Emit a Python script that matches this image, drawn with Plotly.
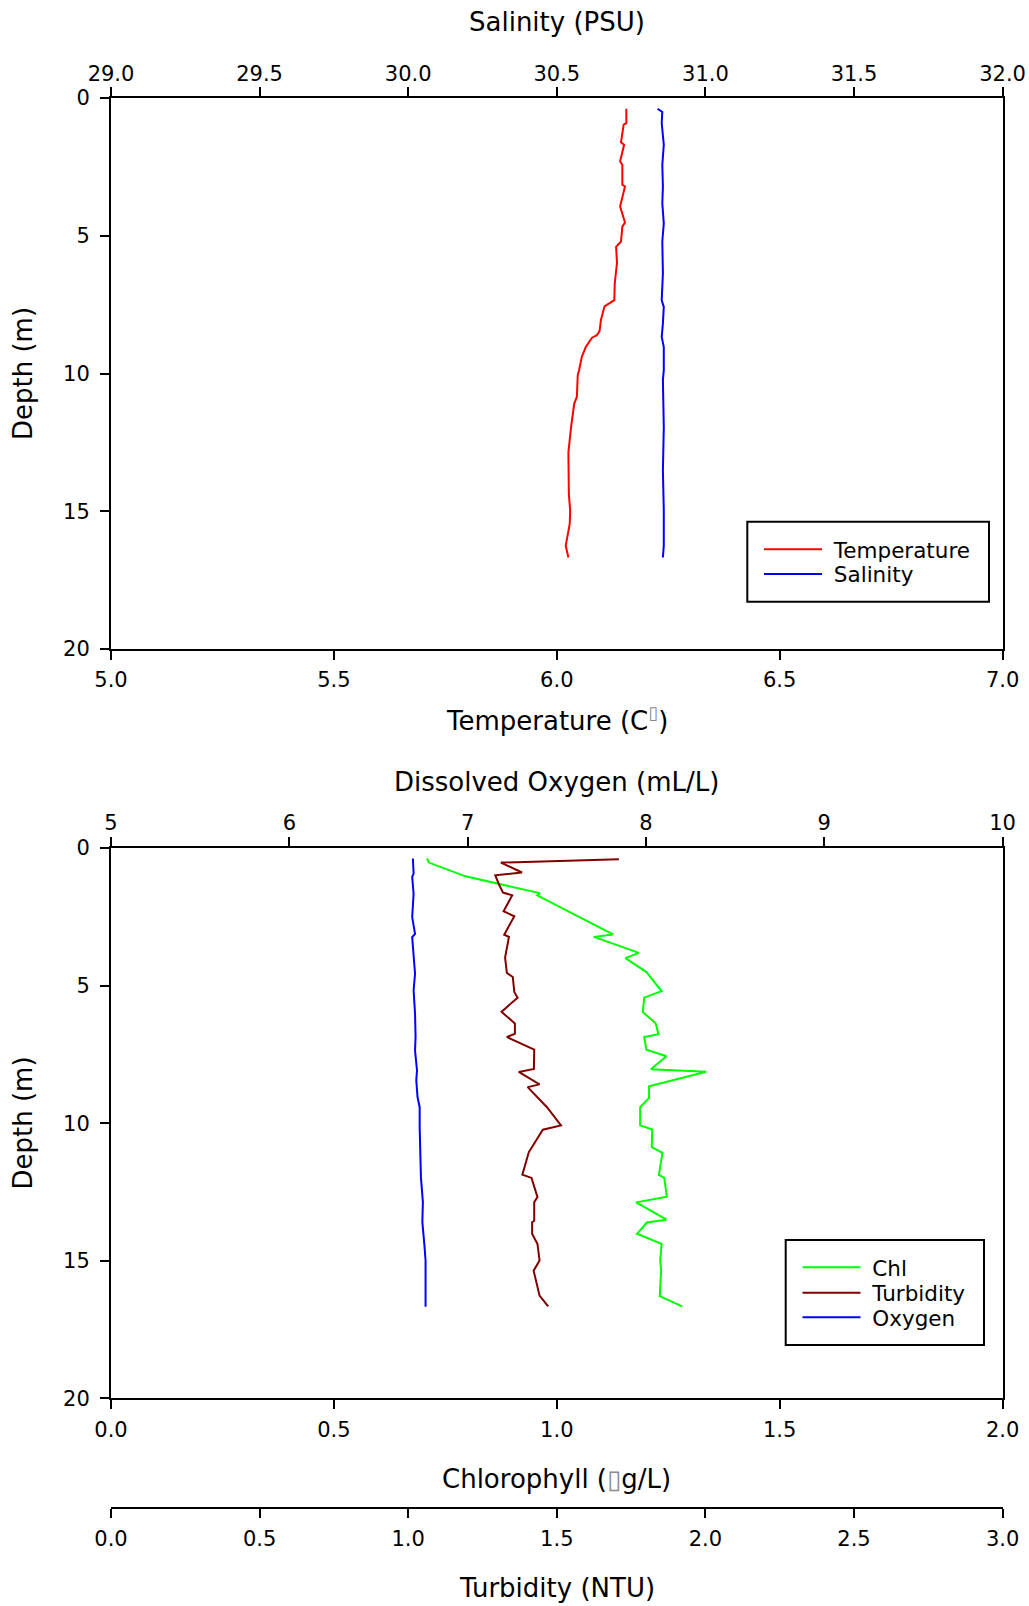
import plotly.graph_objects as go

# ---- CTD profile data (depth in m) ----
temp_depth = [0.39, 0.91, 0.97, 1.61, 1.70, 2.30, 2.43, 3.15, 3.21, 3.94, 4.52, 4.67, 5.21, 5.40,
              5.98, 6.73, 7.34, 7.56, 8.06, 8.45, 8.61, 8.70, 9.04, 9.40, 9.88, 10.06, 10.85, 11.10,
              11.95, 12.86, 14.37, 14.98, 15.46, 16.25, 16.68]
temperature = [6.156, 6.156, 6.150, 6.144, 6.151, 6.142, 6.147, 6.147, 6.153, 6.142, 6.153, 6.147,
               6.144, 6.133, 6.135, 6.130, 6.129, 6.107, 6.099, 6.096, 6.090, 6.079, 6.065, 6.056,
               6.050, 6.047, 6.045, 6.039, 6.032, 6.026, 6.027, 6.030, 6.029, 6.020, 6.026]

sal_depth = [0.39, 0.51, 0.91, 1.70, 2.43, 3.21, 3.82, 4.55, 5.21, 6.37, 7.34, 7.58, 8.19, 8.67,
             9.04, 9.88, 10.24, 11.95, 13.52, 14.98, 16.25, 16.68]
salinity = [30.839, 30.855, 30.853, 30.860, 30.855, 30.857, 30.855, 30.860, 30.855, 30.857, 30.853,
            30.860, 30.857, 30.853, 30.860, 30.860, 30.857, 30.860, 30.857, 30.860, 30.860, 30.857]

chl_depth = [0.38, 0.53, 1.03, 1.60, 1.64, 1.72, 3.14, 3.23, 3.81, 4.00, 4.51, 5.20, 5.44, 5.96,
             6.38, 6.77, 6.87, 7.33, 7.57, 8.04, 8.13, 8.66, 9.08, 9.42, 10.08, 10.23, 10.87, 11.08,
             11.88, 11.99, 12.67, 12.88, 13.51, 13.61, 14.02, 14.39, 14.99, 15.36, 16.29, 16.66]
chlorophyll = [0.709, 0.713, 0.795, 0.957, 0.962, 0.956, 1.126, 1.083, 1.184, 1.154, 1.201, 1.235,
               1.196, 1.193, 1.222, 1.228, 1.196, 1.201, 1.246, 1.211, 1.335, 1.207, 1.207, 1.187,
               1.187, 1.214, 1.213, 1.237, 1.229, 1.241, 1.247, 1.178, 1.246, 1.202, 1.180, 1.235,
               1.232, 1.234, 1.231, 1.281]

turb_depth = [0.41, 0.53, 0.89, 0.99, 1.29, 1.62, 1.72, 2.30, 2.48, 3.15, 3.23, 3.60, 3.98, 4.54,
              4.69, 5.23, 5.44, 5.95, 6.38, 6.75, 6.87, 7.33, 8.03, 8.14, 8.59, 8.69, 9.42, 10.08,
              10.24, 11.05, 11.87, 11.99, 12.69, 12.87, 13.55, 13.60, 14.02, 14.39, 14.99, 15.36,
              16.27, 16.66]
turbidity = [1.709, 1.312, 1.383, 1.293, 1.304, 1.319, 1.350, 1.321, 1.357, 1.323, 1.339, 1.332,
             1.326, 1.332, 1.352, 1.357, 1.368, 1.314, 1.359, 1.359, 1.332, 1.424, 1.423, 1.372,
             1.442, 1.402, 1.467, 1.514, 1.453, 1.406, 1.384, 1.415, 1.435, 1.424, 1.424, 1.417,
             1.417, 1.435, 1.442, 1.422, 1.442, 1.471]

ox_depth = [0.38, 0.93, 1.05, 1.66, 2.51, 3.12, 3.24, 3.84, 4.57, 5.18, 6.02, 6.87, 7.36, 8.08,
            8.44, 9.05, 9.42, 10.15, 10.99, 11.96, 12.87, 13.60, 14.39, 14.99, 16.67]
oxygen = [6.693, 6.697, 6.689, 6.697, 6.689, 6.705, 6.689, 6.697, 6.705, 6.697, 6.705, 6.708,
          6.705, 6.716, 6.712, 6.719, 6.731, 6.731, 6.734, 6.738, 6.749, 6.746, 6.757, 6.764, 6.764]

# ---- axis ticks ----
depth_ticks = [0, 5, 10, 15, 20]
temp_ticks = [5.0, 5.5, 6.0, 6.5, 7.0]
sal_ticks = [29.0, 29.5, 30.0, 30.5, 31.0, 31.5, 32.0]
chl_ticks = [0.0, 0.5, 1.0, 1.5, 2.0]
turb_ticks = [0.0, 0.5, 1.0, 1.5, 2.0, 2.5, 3.0]
do_ticks = [5, 6, 7, 8, 9, 10]

W, H = 1029, 1606
FONT = "DejaVu Sans"
X_DOM = [111 / W, 1002.6 / W]
TOP_DOM = [1 - 649 / H, 1 - 98 / H]
BOT_DOM = [1 - 1398.3 / H, 1 - 848 / H]
TURB_POS = 1 - 1508.3 / H
X_MID = 0.5 * (X_DOM[0] + X_DOM[1])

# (name, values, depths, colour, x-axis, y-axis, legend id, legend row centre in px)
series = [
    ("Temperature", temperature, temp_depth, "#FF0000", "x", "y", "legend", 549.3),
    ("Salinity", salinity, sal_depth, "#0000FF", "x2", "y", "legend2", 574.0),
    ("Chl", chlorophyll, chl_depth, "#00FF00", "x3", "y2", "legend3", 1267.3),
    ("Turbidity", turbidity, turb_depth, "#800000", "x4", "y2", "legend4", 1292.7),
    ("Oxygen", oxygen, ox_depth, "#0000FF", "x5", "y2", "legend5", 1317.3),
]

fig = go.Figure()
legend_layout = {}
for name, vals, dep, col, xa, ya, lg, row_y in series:
    fig.add_trace(go.Scatter(x=vals, y=dep, mode="lines", name="\u00a0" + name,
                             line=dict(color=col, width=2), xaxis=xa, yaxis=ya, legend=lg))
    left_px = 759 if ya == "y" else 797.5
    legend_layout[lg] = dict(x=left_px / W, y=1 - row_y / H, xanchor="left", yanchor="middle",
                             bgcolor="rgba(0,0,0,0)", borderwidth=0, itemwidth=58,
                             font=dict(family=FONT, size=21.5, color="black"))

common = dict(showline=True, linecolor="black", linewidth=2, ticks="outside", ticklen=9,
              tickwidth=1.5, tickcolor="black", showgrid=False, zeroline=False,
              automargin=False, tickfont=dict(family=FONT, size=21, color="black"))


def fmt(vals, nd):
    return [f"{v:.{nd}f}" for v in vals]


fig.update_layout(
    template="none",
    width=W, height=H, margin=dict(l=0, r=0, t=0, b=0, pad=0, autoexpand=False),
    paper_bgcolor="white", plot_bgcolor="white", showlegend=True,
    xaxis=dict(domain=X_DOM, anchor="y", range=[5, 7], tickvals=temp_ticks,
               ticktext=fmt(temp_ticks, 1), ticklabelstandoff=2, **common),
    xaxis2=dict(overlaying="x", side="top", anchor="y", range=[29, 32], tickvals=sal_ticks,
                ticktext=fmt(sal_ticks, 1), ticklabelstandoff=-2, **common),
    yaxis=dict(domain=TOP_DOM, anchor="x", range=[20, 0], tickvals=depth_ticks,
               ticktext=[str(v) for v in depth_ticks], mirror=True, ticklabelstandoff=6,
               **common),
    xaxis3=dict(domain=X_DOM, anchor="y2", range=[0, 2], tickvals=chl_ticks,
                ticktext=fmt(chl_ticks, 1), ticklabelstandoff=2, **common),
    xaxis4=dict(overlaying="x3", anchor="free", position=TURB_POS, side="bottom", range=[0, 3],
                tickvals=turb_ticks, ticktext=fmt(turb_ticks, 1), ticklabelstandoff=2, **common),
    xaxis5=dict(overlaying="x3", side="top", anchor="y2", range=[5, 10], tickvals=do_ticks,
                ticktext=[str(v) for v in do_ticks], ticklabelstandoff=-1, **common),
    yaxis2=dict(domain=BOT_DOM, anchor="x3", range=[20, 0], tickvals=depth_ticks,
                ticktext=[str(v) for v in depth_ticks], mirror=True, ticklabelstandoff=6,
                **common),
    **legend_layout,
)

# legend frames
for x0, y0, x1, y1 in [(747.3, 521.7, 989, 601.7), (785.7, 1240, 984, 1345)]:
    fig.add_shape(type="rect", xref="paper", yref="paper", x0=x0 / W, x1=x1 / W,
                  y0=1 - y1 / H, y1=1 - y0 / H, line=dict(color="black", width=2),
                  fillcolor="rgba(0,0,0,0)", layer="above")

sup_box = "<sup><span style='color:#8a8a8a;font-size:18px'>\u25af</span></sup>"
box = "<span style='color:#8a8a8a;font-size:26px'>\u25af</span>"
titles = [
    ("Salinity (PSU)", X_MID, 1 - 22 / H, 0),
    ("Temperature (C" + sup_box + ")", X_MID, 1 - 719 / H, 0),
    ("Dissolved Oxygen (mL/L)", X_MID, 1 - 782 / H, 0),
    ("Chlorophyll (" + box + "g/L)", X_MID, 1 - 1479 / H, 0),
    ("Turbidity (NTU)", X_MID, 1 - 1588 / H, 0),
    ("Depth (m)", 22.5 / W, 1 - 373.5 / H, -90),
    ("Depth (m)", 22.5 / W, 1 - 1123 / H, -90),
]
for text, x, y, ang in titles:
    fig.add_annotation(text=text, x=x, y=y, xref="paper", yref="paper", showarrow=False,
                       xanchor="center", yanchor="middle", textangle=ang,
                       font=dict(family=FONT, size=26, color="black"))

fig.write_html("out.html")
